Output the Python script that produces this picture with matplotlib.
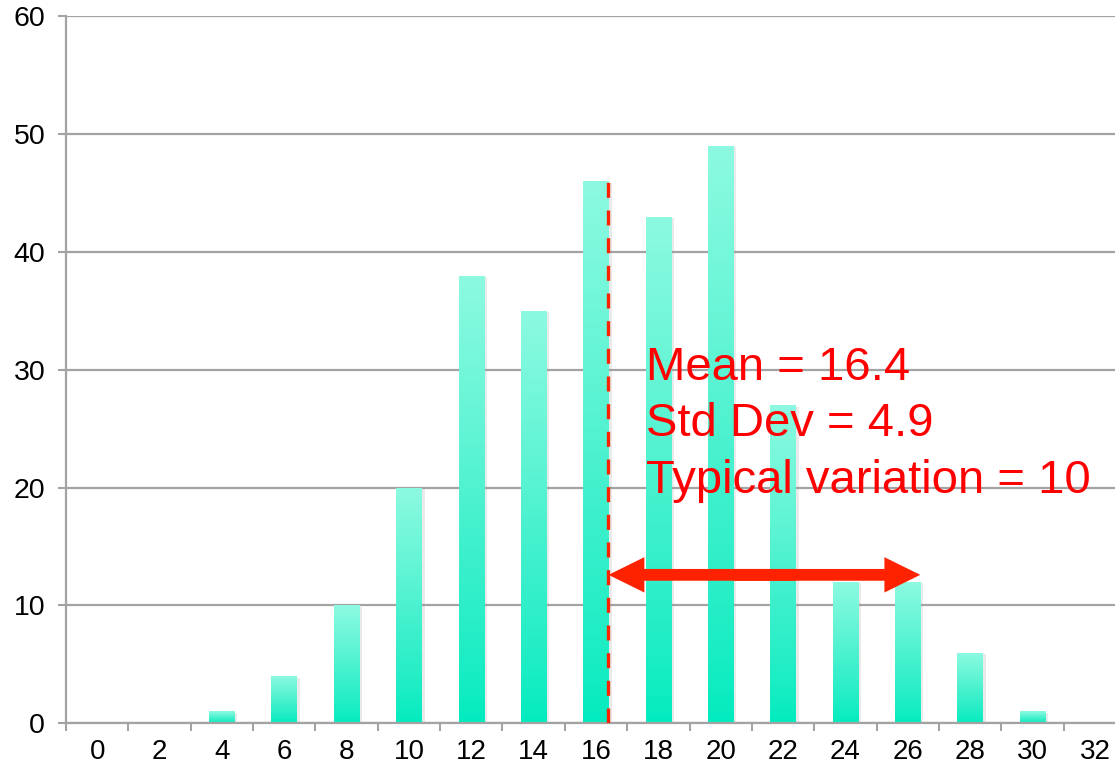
import numpy as np
import matplotlib
matplotlib.use("Agg")
import matplotlib.pyplot as plt
import matplotlib.patheffects as pe
from matplotlib.colors import LinearSegmentedColormap

# histogram of values (bin centre -> count)
bins = [0, 2, 4, 6, 8, 10, 12, 14, 16, 18, 20, 22, 24, 26, 28, 30, 32]
counts = [0, 0, 1, 4, 10, 20, 38, 35, 46, 43, 49, 27, 12, 12, 6, 1, 0]

mean = 16.4
std_dev = 4.9
typical_variation = 10
arrow_y = 12.6

plt.rcParams['font.family'] = ['Liberation Sans', 'DejaVu Sans']

fig = plt.figure(figsize=(11.15, 7.71), dpi=100)
ax = fig.add_axes([0.0592, 0.0619, 0.9507, 0.9167])

grey = '#a3a3a3'
ax.set_xlim(-1, 33)
ax.set_ylim(0, 60)
ax.set_yticks(range(0, 61, 10))
ax.set_xticks(bins)
ax.set_xticks(np.arange(-1, 33, 2), minor=True)
ax.tick_params(axis='x', which='major', length=0, pad=11, labelsize=20)
ax.tick_params(axis='x', which='minor', length=6, width=1.5, color=grey, direction='out')
ax.tick_params(axis='y', length=6, width=1.5, color=grey, pad=9, labelsize=20.5)
ax.yaxis.grid(True, color=grey, linewidth=1.6)
ax.set_axisbelow(True)
for s in ['top', 'right']:
    ax.spines[s].set_visible(False)
for s in ['left', 'bottom']:
    ax.spines[s].set_color(grey)
    ax.spines[s].set_linewidth(1.6)

# bars with a light-top / aqua-bottom gradient and a soft shadow
cmap = LinearSegmentedColormap.from_list('aqua', ['#00ebbe', '#3ef0cc', '#8cfae0'])
grad = np.linspace(0, 1, 256).reshape(-1, 1) ** 0.75
bars = ax.bar(bins, counts, width=0.82, color='#8cfae0', linewidth=0, zorder=2)
for b in bars:
    if b.get_height() <= 0:
        continue
    b.set_path_effects([pe.SimplePatchShadow(offset=(2, -1), shadow_rgbFace='#999999', alpha=0.2),
                        pe.Normal()])
    x0, y0 = b.get_x(), b.get_y()
    im = ax.imshow(grad, cmap=cmap, aspect='auto', origin='lower',
                   extent=[x0, x0 + b.get_width(), y0, y0 + b.get_height()], zorder=2.5)
    im.set_clip_path(b)

ax.set_xlim(-1, 33)
ax.set_ylim(0, 60)

# mean marker
ax.vlines(mean, 0, 46, colors='#ff2200', linewidth=2.4, linestyles=(0, (4.5, 3.8)), zorder=4)

# typical variation arrow: two heads drawn outward, overlapping in the middle
mid = mean + typical_variation / 2
for end, start in ((mean, mid + 1), (mean + typical_variation, mid - 1)):
    ax.arrow(start, arrow_y, end - start, 0, width=1.0, head_width=3.0, head_length=1.15,
             length_includes_head=True, color='#ff2200', linewidth=0, zorder=5)

labels = [f'Mean = {mean}', f'Std Dev = {std_dev}', f'Typical variation = {typical_variation}']
for i, txt in enumerate(labels):
    ax.text(17.6, 29.15 - 4.8 * i, txt, color='#ff0000', fontsize=34, va='baseline', ha='left', zorder=6)

fig.savefig('out.png', dpi=100)
